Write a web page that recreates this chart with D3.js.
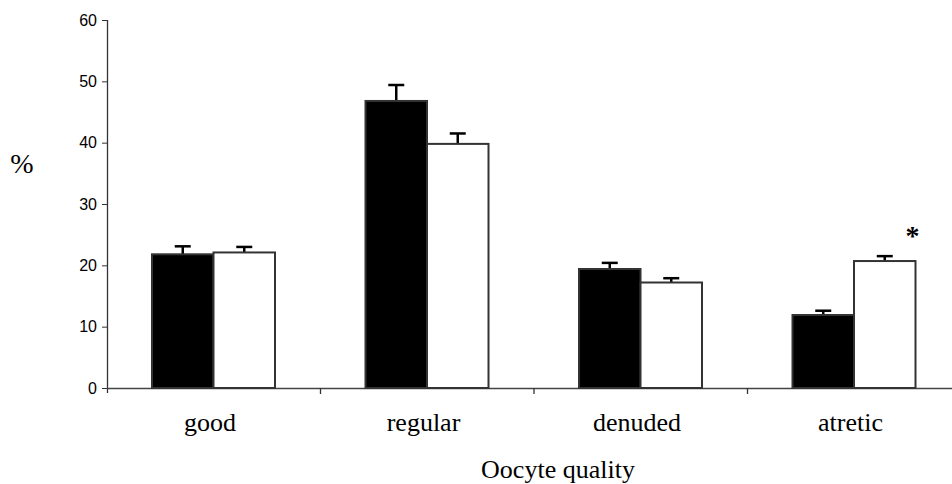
<!DOCTYPE html>
<html>
<head>
<meta charset="utf-8">
<script src="https://cdn.jsdelivr.net/npm/d3@7"></script>
<style>
  body { margin: 0; background: #fff; }
  svg { display: block; }
  .tick text { font-family: "Liberation Sans", Arial, sans-serif; font-size: 16px; fill: #000; }
  .serif { font-family: "Liberation Serif", "Times New Roman", serif; fill: #000; }
</style>
</head>
<body>
<div id="chart"></div>
<script>
// oocyte quality, two groups (black / white bars), mean + SEM
var categories = ['good', 'regular', 'denuded', 'atretic'];
var blackVals = [21.8, 46.8, 19.4, 11.9];
var blackErr = [1.3, 2.6, 1.0, 0.7];
var whiteVals = [22.1, 39.8, 17.2, 20.7];
var whiteErr = [0.9, 1.7, 0.7, 0.8];
var yTicks = [0, 10, 20, 30, 40, 50, 60];
var starred = ['atretic'];

(function() {
  var width = 952, height = 484;
  var left = 107, bottom = 388, plotTop = 20, right = 961;

  var svg = d3.select('#chart').append('svg')
    .attr('width', width).attr('height', height);

  var y = d3.scaleLinear().domain([0, 60]).range([bottom, plotTop]);
  var x = d3.scaleBand().domain(categories).range([left, right]).padding(0);
  var inner = d3.scaleBand().domain(['black', 'white']).range([45, 168]).padding(0);

  // y axis
  var yAxis = svg.append('g')
    .attr('transform', 'translate(' + left + ',0)')
    .call(d3.axisLeft(y).tickValues(yTicks).tickSize(5).tickPadding(5).tickSizeOuter(0));
  yAxis.select('.domain').attr('stroke', '#333').attr('stroke-width', 1.3)
    .attr('d', 'M0.5,' + plotTop + 'V' + (bottom + 5));
  yAxis.selectAll('.tick line').attr('stroke', '#333');

  // x axis line + category boundary ticks
  svg.append('line')
    .attr('x1', left).attr('x2', width)
    .attr('y1', bottom + 0.5).attr('y2', bottom + 0.5)
    .attr('stroke', '#444').attr('stroke-width', 1.3);
  svg.selectAll('.xtick').data(categories.slice(1)).enter().append('line')
    .attr('class', 'xtick')
    .attr('x1', function(d) { return x(d); })
    .attr('x2', function(d) { return x(d); })
    .attr('y1', bottom).attr('y2', bottom + 6)
    .attr('stroke', '#333').attr('stroke-width', 1.3);

  var bars = d3.merge(categories.map(function(c, i) {
    return [
      { cat: c, s: 'black', v: blackVals[i], e: blackErr[i] },
      { cat: c, s: 'white', v: whiteVals[i], e: whiteErr[i] }
    ];
  }));

  var barX = function(d) { return x(d.cat) + inner(d.s); };
  var barMid = function(d) { return barX(d) + inner.bandwidth() / 2; };

  // error bars first so the bar stroke sits on top
  svg.selectAll('.err').data(bars).enter().append('line')
    .attr('class', 'err')
    .attr('x1', barMid).attr('x2', barMid)
    .attr('y1', function(d) { return y(d.v); })
    .attr('y2', function(d) { return y(d.v + d.e); })
    .attr('stroke', '#000').attr('stroke-width', 2.5);
  svg.selectAll('.cap').data(bars).enter().append('line')
    .attr('class', 'cap')
    .attr('x1', function(d) { return barMid(d) - 8; })
    .attr('x2', function(d) { return barMid(d) + 8; })
    .attr('y1', function(d) { return y(d.v + d.e); })
    .attr('y2', function(d) { return y(d.v + d.e); })
    .attr('stroke', '#000').attr('stroke-width', 2.5);

  svg.selectAll('.bar').data(bars).enter().append('rect')
    .attr('class', 'bar')
    .attr('x', barX)
    .attr('y', function(d) { return y(d.v); })
    .attr('width', inner.bandwidth())
    .attr('height', function(d) { return y(0) - y(d.v); })
    .attr('fill', function(d) { return d.s === 'black' ? '#000' : '#fff'; })
    .attr('stroke', '#333').attr('stroke-width', 2);

  // significance marker
  svg.selectAll('.star').data(starred).enter().append('text')
    .attr('class', 'serif star')
    .attr('x', function(d) { return x(d) + inner('white') + inner.bandwidth() - 3; })
    .attr('y', function(d) {
      var i = categories.indexOf(d);
      return y(whiteVals[i] + whiteErr[i]) - 11;
    })
    .attr('text-anchor', 'middle')
    .style('font-size', '28px')
    .style('font-weight', 'bold')
    .text('*');

  // category labels
  svg.selectAll('.cat').data(categories).enter().append('text')
    .attr('class', 'serif cat')
    .attr('x', function(d) { return x(d) + 45 + 58; })
    .attr('y', 431)
    .attr('text-anchor', 'middle')
    .style('font-size', '26px')
    .text(function(d) { return d; });

  svg.append('text').attr('class', 'serif')
    .attr('x', 558).attr('y', 478)
    .attr('text-anchor', 'middle')
    .style('font-size', '26px')
    .text('Oocyte quality');

  svg.append('text').attr('class', 'serif')
    .attr('x', 22).attr('y', 173)
    .attr('text-anchor', 'middle')
    .style('font-size', '28px')
    .text('%');
}).call(this);
</script>
</body>
</html>
